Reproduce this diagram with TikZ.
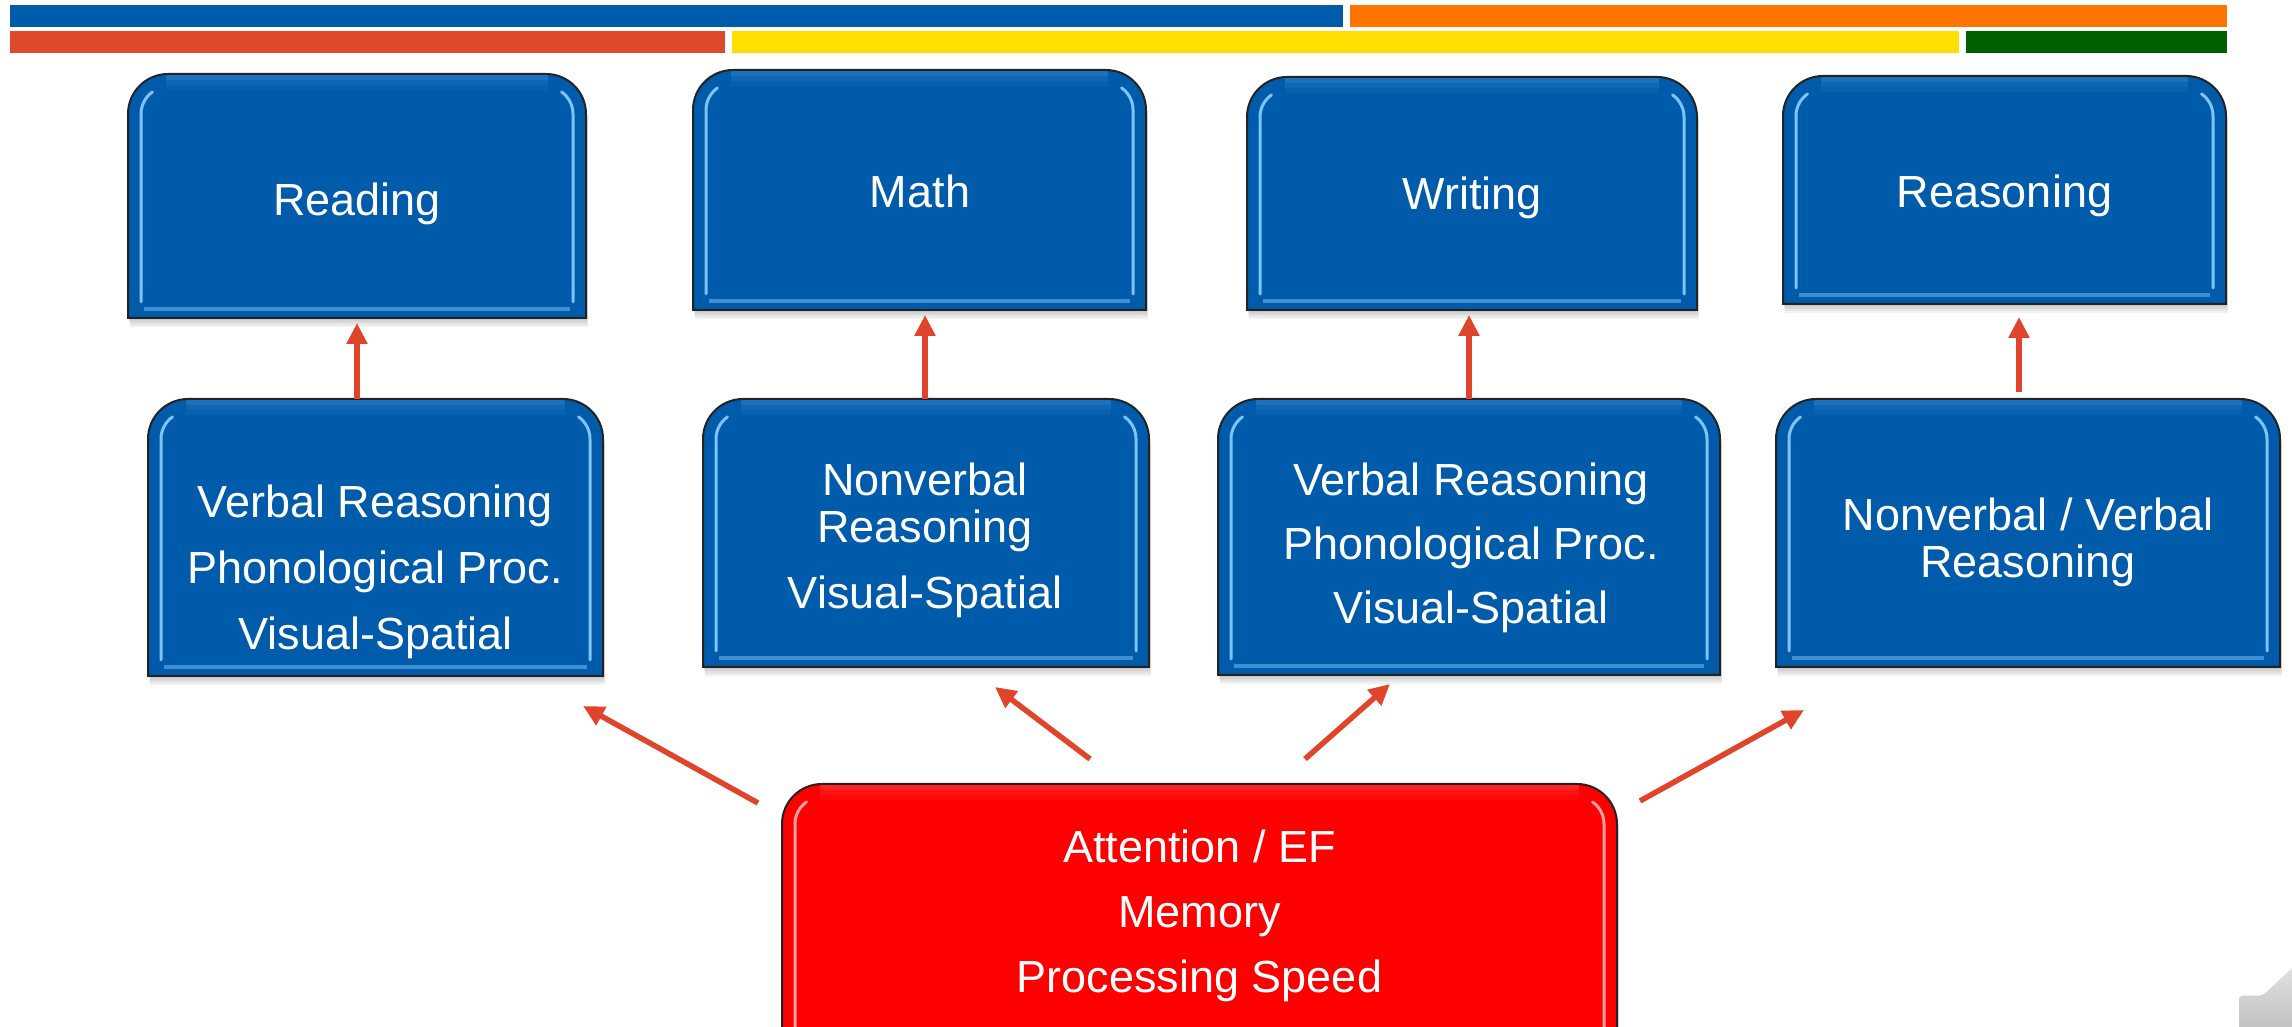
\documentclass[tikz,border=0pt]{standalone}
\usepackage{fontspec}
\setmainfont{Liberation Sans}
\usetikzlibrary{arrows.meta,calc}
\pgfdeclarelayer{background}
\pgfsetlayers{background,main}

\definecolor{tabblue}{RGB}{0,91,170}
\definecolor{tabglow}{RGB}{125,195,248}
\definecolor{tabred}{RGB}{255,0,0}
\definecolor{redglow}{RGB}{255,160,160}
\definecolor{arrowred}{RGB}{224,69,43}
\definecolor{barblue}{RGB}{0,91,170}
\definecolor{barorange}{RGB}{255,117,0}
\definecolor{barred}{RGB}{224,74,42}
\definecolor{baryellow}{RGB}{255,222,0}
\definecolor{bargreen}{RGB}{0,95,0}
\definecolor{edge}{RGB}{35,35,35}

\tikzset{
  tab path/.style 2 args={insert path={
    (#1.south west) -- ([yshift=-#2]#1.north west)
    arc[start angle=180,end angle=90,radius=#2]
    -- ([xshift=-#2]#1.north east)
    arc[start angle=90,end angle=0,radius=#2]
    -- (#1.south east) -- cycle}},
  tabnode/.style={draw=none, inner sep=0pt, outer sep=0pt},
  tabtext/.style={inner sep=0pt, text=white,
    font=\fontsize{45}{47}\selectfont, align=center},
  arr/.style={draw=arrowred, line width=5.5pt,
    -{Triangle[length=21pt,width=20pt]}},
}

% glossy box with rounded top corners behind node #1
\newcommand\tabshape[3]{%
  \begin{pgfonlayer}{background}
    \foreach \k in {1,...,4}{%
      \fill[black,opacity=0.06,transform canvas={shift={(0.5pt*\k,-2.2pt*\k)}}]
        [tab path={#1}{40pt}];}
    \fill[#2][tab path={#1}{40pt}];
    \foreach \d/\o in {4/0.22,9/0.12,14/0.06}{%
      \draw[#3, line width=5pt, opacity=\o]
        ([xshift=38pt,yshift=-\d pt]#1.north west) -- ([xshift=-38pt,yshift=-\d pt]#1.north east);}
    \draw[#3, line width=4pt, opacity=0.5]
      ([xshift=16pt,yshift=9pt]#1.south west) -- ([xshift=-16pt,yshift=9pt]#1.south east);
    \draw[#3, line width=3pt, line cap=round]
      ([xshift=13pt,yshift=16pt]#1.south west) -- ([xshift=13pt,yshift=-40pt]#1.north west)
      arc[start angle=180,end angle=125,radius=27pt];
    \draw[#3, line width=3pt, line cap=round]
      ([xshift=-13pt,yshift=16pt]#1.south east) -- ([xshift=-13pt,yshift=-40pt]#1.north east)
      arc[start angle=0,end angle=55,radius=27pt];
    \draw[edge, line width=2pt][tab path={#1}{40pt}];
  \end{pgfonlayer}}

\begin{document}
\begin{tikzpicture}[x=1pt,y=1pt]
  \useasboundingbox (0,0) rectangle (2292,1027);
  \clip (0,0) rectangle (2292,1027);

  % colour bars along the top
  \fill[barblue]   (10,999.7) rectangle (1343,1022);
  \fill[barorange] (1350,999.7) rectangle (2227,1022);
  \fill[barred]    (10,974.3) rectangle (725,996.3);
  \fill[baryellow] (732,974.3) rectangle (1959,996.3);
  \fill[bargreen]  (1966,974.3) rectangle (2227,996.3);

  % achievement areas
  \node[tabnode, minimum width=458pt, minimum height=244pt] (T1) at (357,831) {};
  \node[tabnode, minimum width=453pt, minimum height=240pt] (T2) at (919.5,837) {};
  \node[tabnode, minimum width=450pt, minimum height=233pt] (T3) at (1472,833.5) {};
  \node[tabnode, minimum width=443pt, minimum height=228pt] (T4) at (2004.5,837) {};

  \node[tabtext] (T1t) at (357,823.5) {Reading};
  \node[tabtext] (T2t) at (920,835.5) {Math};
  \node[tabtext] (T3t) at (1472,829) {Writing};
  \node[tabtext] (T4t) at (2004.5,831) {Reasoning};

  % cognitive abilities
  \node[tabnode, minimum width=455pt, minimum height=277pt] (M1) at (375.5,489.5) {};
  \node[tabnode, minimum width=446pt, minimum height=268pt] (M2) at (926,494) {};
  \node[tabnode, minimum width=502pt, minimum height=276pt] (M3) at (1469,490) {};
  \node[tabnode, minimum width=504pt, minimum height=268pt] (M4) at (2028,494) {};

  \node[tabtext] (M1t) at (375.5,455) {Verbal Reasoning\\[19pt]Phonological Proc.\\[19pt]Visual-Spatial};
  \node[tabtext] (M2t) at (925,487) {Nonverbal\\Reasoning\\[19pt]Visual-Spatial};
  \node[tabtext] (M3t) at (1471,479) {Verbal Reasoning\\[17pt]Phonological Proc.\\[17pt]Visual-Spatial};
  \node[tabtext] (M4t) at (2028,485) {Nonverbal / Verbal\\Reasoning};

  % foundational processes
  \node[tabnode, minimum width=835pt, minimum height=263pt] (R) at (1199.5,111.5) {};
  \node[tabtext] (Rt) at (1199.5,111) {Attention / EF\\[18pt]Memory\\[18pt]Processing Speed};

  \tabshape{T1}{tabblue}{tabglow}
  \tabshape{T2}{tabblue}{tabglow}
  \tabshape{T3}{tabblue}{tabglow}
  \tabshape{T4}{tabblue}{tabglow}
  \tabshape{M1}{tabblue}{tabglow}
  \tabshape{M2}{tabblue}{tabglow}
  \tabshape{M3}{tabblue}{tabglow}
  \tabshape{M4}{tabblue}{tabglow}
  \tabshape{R}{tabred}{redglow}

  % upward arrows
  \draw[arr] (T1.south |- M1.north) -- ($(T1.south)+(0,-5)$);
  \draw[arr] ($(M2.north)+(-1,0)$) -- ($(M2.north |- T2.south)+(-1,-5)$);
  \draw[arr] (M3.north) -- ($(M3.north |- T3.south)+(0,-5)$);
  \draw[arr] ($(M4.north)+(-9,7)$) -- ($(M4.north |- T4.south)+(-9,-13)$);

  \draw[arr] ($(R.north west)+(-24,-19)$) -- ($(M1.south east)+(-20,-30)$);
  \draw[arr] ($(R.north)+(-109.5,25)$) -- ($(M2.south)+(69,-20)$);
  \draw[arr] ($(R.north)+(105.5,25)$) -- ($(M3.south)+(-79,-9)$);
  \draw[arr] ($(R.north east)+(23,-17)$) -- ($(M4.south west)+(28,-43)$);

  % page corner
  \shade[top color=gray!22, bottom color=gray!50, draw=white, line width=1.5pt,
         rounded corners=4pt]
    (2238,-6) -- (2238,32) -- (2262,32) -- (2296,64) -- (2296,-6) -- cycle;
\end{tikzpicture}
\end{document}
